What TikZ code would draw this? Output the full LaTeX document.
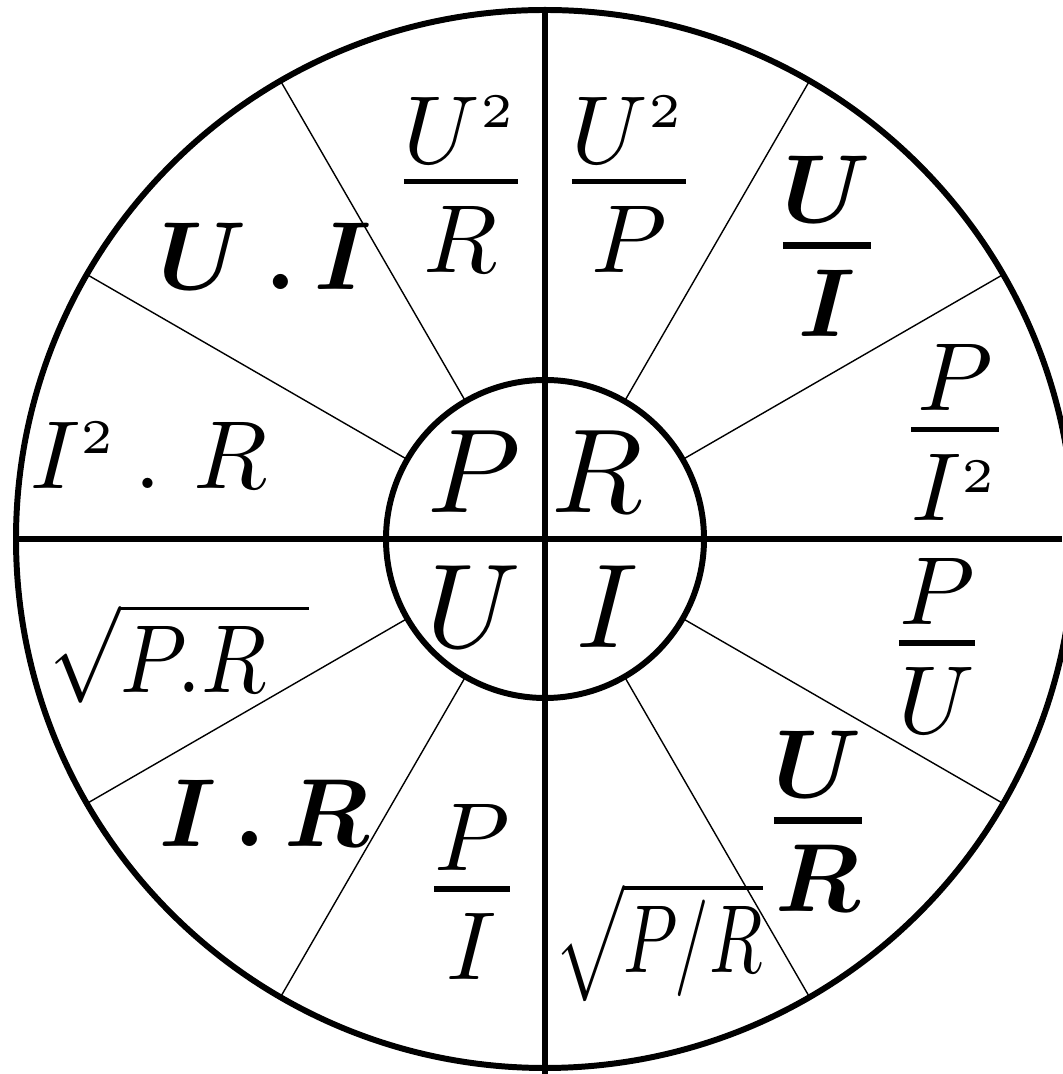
\documentclass[tikz,border=0pt]{standalone}
\usepackage{amsmath,amssymb}
\usepackage{tikz}
\usetikzlibrary{calc}

% fraction with the numerator set close to the bar
\newcommand{\nfrac}[2]{\genfrac{}{}{0.55pt}{0}{\raisebox{-2.4pt}{$#1$}}{#2}}
\newcommand{\bfrac}[2]{\genfrac{}{}{0.7pt}{0}{\raisebox{-2.4pt}{$\boldsymbol{#1}$}}{\boldsymbol{#2}}}
\newcommand{\sq}{^{\scriptscriptstyle 2}}

\begin{document}
\begin{tikzpicture}[
  rim/.style={line width=1.7pt},
  spoke/.style={line width=0.4pt},
  lbl/.style={inner sep=0pt,scale=2.75,transform shape},
  root/.style={inner sep=0pt,scale=2.75,transform shape,anchor=west},
  core/.style={inner sep=0pt,scale=3.4,transform shape}
]
  \useasboundingbox (0,0) rectangle (10.62,10.74);
  \coordinate (O) at (5.45,5.35);

  % thin spokes between the two circles
  \foreach \a in {30,60,120,150,210,240,300,330}
    \draw[spoke] ($(O)+(\a:1.59)$) -- ($(O)+(\a:5.29)$);

  % circles and axes
  \draw[rim] (O) circle (5.29);
  \draw[rim] (O) circle (1.59);
  \draw[rim] ($(O)+(0,5.29)$) -- (5.45,0);
  \draw[rim] ($(O)+(-5.29,0)$) -- (10.62,5.35);

  % inner letters
  \node[core] (p) at (4.74,6.02) {$P$};
  \node[core] (r) at (5.97,6.02) {$R$};
  \node[core] (u) at (4.74,4.67) {$U$};
  \node[core] (i) at (6.07,4.67) {$I$};

  % formulas for R
  \node[lbl] (ruu) at (6.29,8.895) {$\nfrac{U\sq}{P}$};
  \node[lbl] (rui) at (8.27,8.28) {$\bfrac{U}{I}$};
  \node[lbl] (rpi) at (9.55,6.415) {$\nfrac{P}{I\sq}$};

  % formulas for I
  \node[lbl] (ipu) at (9.37,4.28) {$\nfrac{P}{U}$};
  \node[lbl] (iur) at (8.18,2.53) {$\bfrac{U}{R}$};
  \node[root,xscale=0.72] (ipr) at (5.53,1.32) {$\sqrt{P/R}$};

  % formulas for U
  \node[lbl] (upi) at (4.72,1.82) {$\nfrac{P}{I}$};
  \node[lbl] (uir) at (2.64,2.61) {$\boldsymbol{I\,.\,R}$};
  \node[root,xscale=0.88] (upr) at (0.48,4.21) {$\sqrt{P.R\mkern9mu}$};

  % formulas for P
  \node[lbl] (pir) at (1.49,6.19) {$I\sq\,.\,\,R$};
  \node[lbl] (pui) at (2.65,8.18) {$\boldsymbol{U\,.\,I}$};
  \node[lbl] (puu) at (4.61,8.895) {$\nfrac{U\sq}{R}$};
\end{tikzpicture}
\end{document}
